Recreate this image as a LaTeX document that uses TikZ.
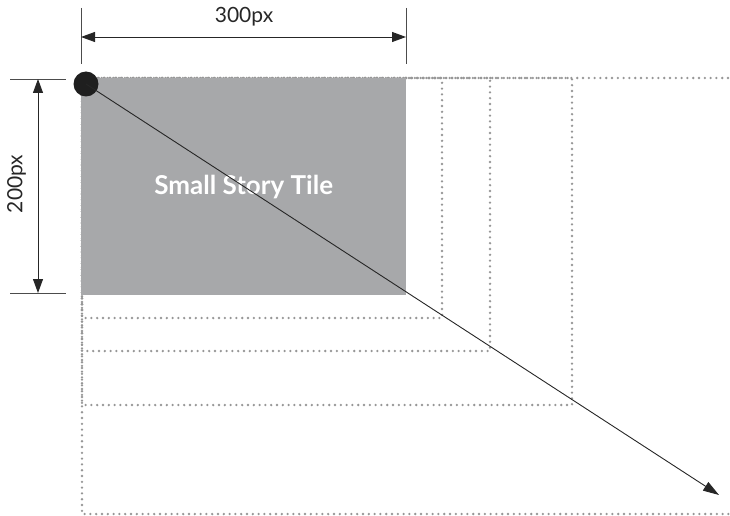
\documentclass[tikz,border=0pt]{standalone}
\usepackage{fontspec}
\setmainfont{Lato}
\usepackage{tikz}
\usetikzlibrary{arrows.meta,positioning}
\definecolor{tilegray}{RGB}{167,168,170}
\definecolor{dotgray}{RGB}{150,150,150}

\begin{document}
\begin{tikzpicture}[x=1pt,y=-1pt,
  tile/.style={fill=tilegray,minimum width=325pt,minimum height=217pt,inner sep=0pt,anchor=north west,font=\fontsize{26}{29}\selectfont\bfseries,text=white},
  dotbox/.style={draw=dotgray,line width=2.6pt,line cap=round,dash pattern=on 0pt off 5.8pt},
  ext/.style={draw=black!70,line width=0.9pt},
  dim/.style={{Triangle[length=14pt,width=10pt]}-{Triangle[length=14pt,width=10pt]},line width=0.9pt,black!85},
  lab/.style={font=\fontsize{21}{24}\selectfont,text=black!85,inner sep=0pt},
  f/.style={-{Triangle[length=16pt,width=10pt]},line width=0.9pt,black!85}]
\useasboundingbox (0,0) rectangle (730,516);
\draw[dotbox] (82,78) rectangle (442,318);
\draw[dotbox] (82,78) rectangle (490,351);
\draw[dotbox] (82,78) rectangle (572,405);
\draw[dotbox] (740,514) -- (82,514) -- (82,78) -- (740,78);
\node[tile] (tile) at (81,78) {Small Story Tile};
\coordinate (wl) at (81,37); \coordinate (wr) at (406,37);
\draw[ext] (81,8) -- (81,64); \draw[ext] (406,8) -- (406,64);
\draw[dim] (wl) -- (wr);
\node[lab] (wlab) at (244,17) {300px};
\coordinate (ht) at (38,79); \coordinate (hb) at (38,293);
\draw[ext] (10,79) -- (66,79); \draw[ext] (10,293) -- (66,293);
\draw[dim] (ht) -- (hb);
\node[lab,rotate=90] (hlab) at (16.5,184) {200px};
\node[circle,fill=black!88,minimum size=25pt,inner sep=0pt] (pin) at (86,84) {};
\coordinate (end) at (719,495);
\draw[f] (pin.center) -- (end);
\end{tikzpicture}
\end{document}
